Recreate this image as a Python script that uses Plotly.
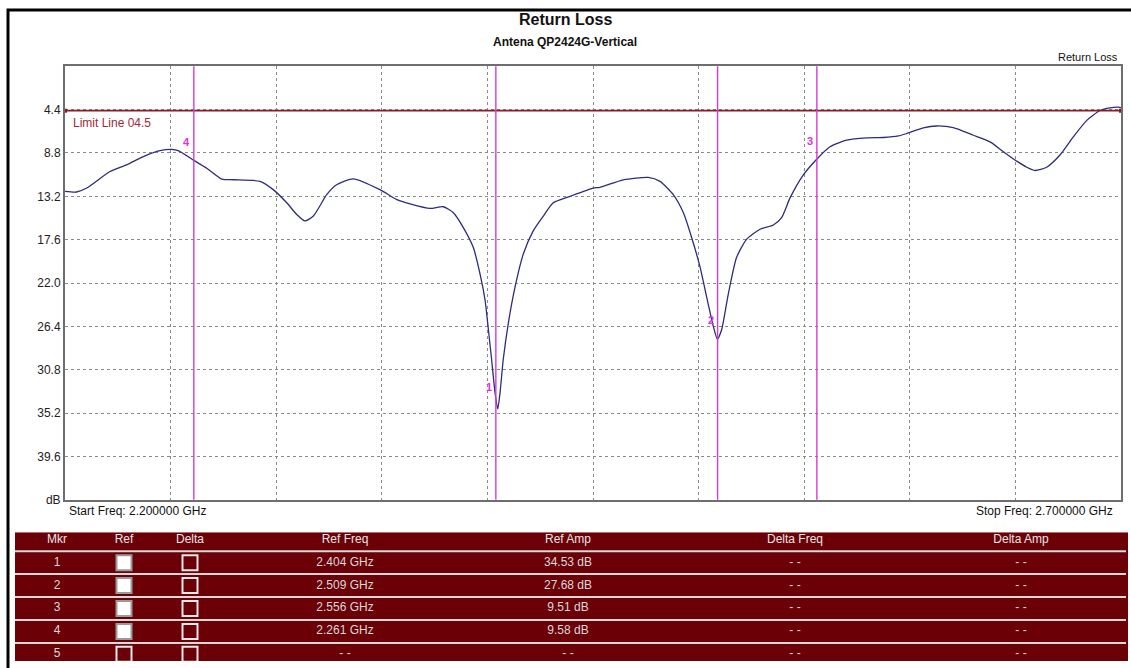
import plotly.graph_objects as go

# sweep trace
freq_ghz = [2.2000, 2.2055, 2.2103, 2.2213, 2.2292, 2.2371, 2.2450, 2.2505, 2.2536, 2.2610,
            2.2671, 2.2742, 2.2797, 2.2923, 2.2986, 2.3050, 2.3097, 2.3136, 2.3176, 2.3239,
            2.3286, 2.3365, 2.3491, 2.3571, 2.3634, 2.3728, 2.3791, 2.3839, 2.3886, 2.3933,
            2.3965, 2.3989, 2.4004, 2.4020, 2.4036, 2.4049, 2.4060, 2.4075, 2.4099, 2.4131,
            2.4170, 2.4217, 2.4265, 2.4312, 2.4391, 2.4501, 2.4533, 2.4643, 2.4762, 2.4817,
            2.4880, 2.4928, 2.4967, 2.5007, 2.5038, 2.5070, 2.5089, 2.5109, 2.5141, 2.5180,
            2.5228, 2.5291, 2.5354, 2.5393, 2.5433, 2.5496, 2.5556, 2.5622, 2.5701, 2.5796,
            2.5875, 2.5946, 2.5985, 2.6064, 2.6127, 2.6206, 2.6301, 2.6380, 2.6443, 2.6498,
            2.6554, 2.6593, 2.6648, 2.6711, 2.6774, 2.6838, 2.6901, 2.6948, 2.6987, 2.7000]
return_loss_db = [12.70, 12.76, 12.36, 10.68, 10.00, 9.17, 8.57, 8.44, 8.57, 9.55,
                  10.35, 11.45, 11.52, 11.68, 12.52, 13.86, 15.04, 15.70, 15.20, 13.03,
                  12.02, 11.42, 12.52, 13.53, 13.96, 14.43, 14.26, 14.87, 16.37, 18.38,
                  21.07, 23.74, 26.59, 29.77, 33.12, 34.80, 33.10, 29.77, 26.09, 22.40,
                  19.06, 16.71, 15.20, 13.86, 13.20, 12.36, 12.29, 11.52, 11.28, 11.68,
                  13.03, 14.87, 17.38, 20.39, 23.41, 26.42, 27.70, 26.75, 23.07, 19.39,
                  17.55, 16.54, 16.11, 15.37, 13.36, 11.02, 9.51, 8.17, 7.50, 7.27,
                  7.23, 7.07, 6.83, 6.26, 6.06, 6.23, 7.00, 7.67, 8.67, 9.51,
                  10.25, 10.58, 10.25, 9.01, 7.17, 5.49, 4.49, 4.22, 4.15, 4.20]

limit_db = 4.5
y_ticks = [4.4, 8.8, 13.2, 17.6, 22.0, 26.4, 30.8, 35.2, 39.6, 44.0]
y_ticktext = ["4.4", "8.8", "13.2", "17.6", "22.0", "26.4", "30.8", "35.2", "39.6", "dB"]

# marker table
mkr = ["1", "2", "3", "4", "5"]
mkr_freq = [2.404, 2.509, 2.556, 2.261]
mkr_amp = [34.53, 27.68, 9.51, 9.58]
ref_on = [True, True, True, True, False]
delta_on = [False, False, False, False, False]
ref_freq_txt = ["2.404 GHz", "2.509 GHz", "2.556 GHz", "2.261 GHz", "- -"]
ref_amp_txt = ["34.53 dB", "27.68 dB", "9.51 dB", "9.58 dB", "- -"]
delta_freq_txt = ["- -", "- -", "- -", "- -", "- -"]
delta_amp_txt = ["- -", "- -", "- -", "- -", "- -"]
headers = ["Mkr", "Ref", "Delta", "Ref Freq", "Ref Amp", "Delta Freq", "Delta Amp"]

W, H = 1131, 668
FONT = "Liberation Sans, Arial, sans-serif"
TABLE_RED = "#6B0007"
MAG = "#D23ED2"

def px(x):
    return x / W

def py(y):
    return 1 - y / H

fig = go.Figure()

fig.add_trace(go.Scatter(x=freq_ghz, y=return_loss_db, mode="lines",
                         line=dict(color="#2E2C7C", width=1.3, shape="spline", smoothing=0.6),
                         hoverinfo="skip"))
fig.add_trace(go.Scatter(x=[freq_ghz[0], freq_ghz[-1]], y=[limit_db, limit_db], mode="markers",
                         marker=dict(symbol="square", size=4, color="#8B1A2B"), hoverinfo="skip"))

shapes = []
annotations = []

# limit line
shapes.append(dict(type="line", xref="x", yref="y", x0=freq_ghz[0], x1=freq_ghz[-1],
                   y0=limit_db, y1=limit_db, line=dict(color="#8B1A2B", width=1.6), layer="above"))
annotations.append(dict(text="Limit Line 04.5", xref="x", yref="y", x=freq_ghz[0], y=limit_db,
                        xanchor="left", yanchor="top", xshift=6, yshift=-3, showarrow=False,
                        font=dict(family=FONT, size=12, color="#A0283A")))

# marker lines + numbers
for i, (f, a) in enumerate(zip(mkr_freq, mkr_amp)):
    shapes.append(dict(type="line", xref="x", yref="paper", x0=f, x1=f,
                       y0=py(505), y1=py(67), line=dict(color=MAG, width=1.4), layer="above"))
    annotations.append(dict(text="<b>%s</b>" % mkr[i], xref="x", yref="y", x=f, y=a,
                            xanchor="right", yanchor="middle", xshift=-2, yshift=19,
                            showarrow=False, font=dict(family=FONT, size=11, color="#E030E0")))

# titles and frame texts
annotations += [
    dict(text="<b>Return Loss</b>", x=px(565), y=py(20), font=dict(size=16)),
    dict(text="<b>Antena QP2424G-Vertical</b>", x=px(565), y=py(42), font=dict(size=12)),
    dict(text="Return Loss", x=px(1120), y=py(58), xanchor="right", font=dict(size=11)),
    dict(text="Start Freq: 2.200000 GHz", x=px(67), y=py(516), xanchor="left", font=dict(size=12)),
    dict(text="Stop Freq: 2.700000 GHz", x=px(1115), y=py(516), xanchor="right", font=dict(size=12)),
]
for a in annotations[-5:]:
    a.update(xref="paper", yref="paper", showarrow=False, yanchor="middle")
    a.setdefault("xanchor", "center")
    a["font"].update(family=FONT, color="#111")

# outer black frame
shapes.append(dict(type="rect", xref="paper", yref="paper", x0=px(8), x1=px(1140),
                   y0=py(680), y1=py(10), line=dict(color="#000", width=3)))

# ---- marker table (second axis pair, x in pixels, y in row index) ----
col_x = [57, 124, 190, 345, 568, 795, 1021]
rows = list(range(1, 6))
shapes.append(dict(type="rect", xref="x2", yref="y2", x0=15, x1=1128, y0=-0.32, y1=5.6,
                   fillcolor=TABLE_RED, line=dict(width=0), layer="below"))
for r in range(5):
    shapes.append(dict(type="line", xref="x2", yref="y2", x0=15, x1=1126, y0=r + 0.5, y1=r + 0.5,
                       line=dict(color="#D8D8D8", width=2)))

fig.add_trace(go.Scatter(x=col_x, y=[0] * len(headers), text=headers, mode="text",
                         textfont=dict(family=FONT, size=12, color="#E6E6E6"),
                         xaxis="x2", yaxis="y2", hoverinfo="skip"))
for cx, col in zip([col_x[0], col_x[3], col_x[4], col_x[5], col_x[6]],
                   [mkr, ref_freq_txt, ref_amp_txt, delta_freq_txt, delta_amp_txt]):
    fig.add_trace(go.Scatter(x=[cx] * 5, y=rows, text=col, mode="text",
                             textfont=dict(family=FONT, size=12, color="#D9D9D9"),
                             xaxis="x2", yaxis="y2", hoverinfo="skip"))
for cx, state in [(col_x[1], ref_on), (col_x[2], delta_on)]:
    fig.add_trace(go.Scatter(
        x=[cx] * 5, y=rows, mode="markers", xaxis="x2", yaxis="y2", hoverinfo="skip",
        marker=dict(symbol="square", size=15,
                    color=["#FFFFFF" if s else TABLE_RED for s in state],
                    line=dict(color=["#9A9A9A" if s else "#E8E8E8" for s in state], width=2))))

grid = dict(showgrid=True, gridcolor="#8A8A8A", griddash="dot", gridwidth=1,
            showline=True, mirror=True, linecolor="#6E6E6E", linewidth=2, zeroline=False)

fig.update_layout(
    width=W, height=H, autosize=False,
    margin=dict(l=0, r=0, t=0, b=0),
    paper_bgcolor="white", plot_bgcolor="white",
    showlegend=False,
    font=dict(family=FONT, size=12, color="#222"),
    xaxis=dict(domain=[px(65), px(1121)], range=[2.2, 2.7], tickvals=[2.25 + 0.05 * k for k in range(9)],
               showticklabels=False, ticks="", **grid),
    yaxis=dict(domain=[py(505), py(67)], range=[44, 0], tickvals=y_ticks, ticktext=y_ticktext,
               ticks="", tickfont=dict(family=FONT, size=12, color="#222"), **grid),
    xaxis2=dict(domain=[0, 1], range=[0, W], visible=False, anchor="y2"),
    yaxis2=dict(domain=[0, py(538)], range=[5.29, -0.32], visible=False, anchor="x2"),
    shapes=shapes,
    annotations=annotations,
)

# drop the default 8px body margin so the figure fills the window exactly
fig.write_html("out.html", config={"displayModeBar": False},
               post_script="document.body.style.margin='0px';")
